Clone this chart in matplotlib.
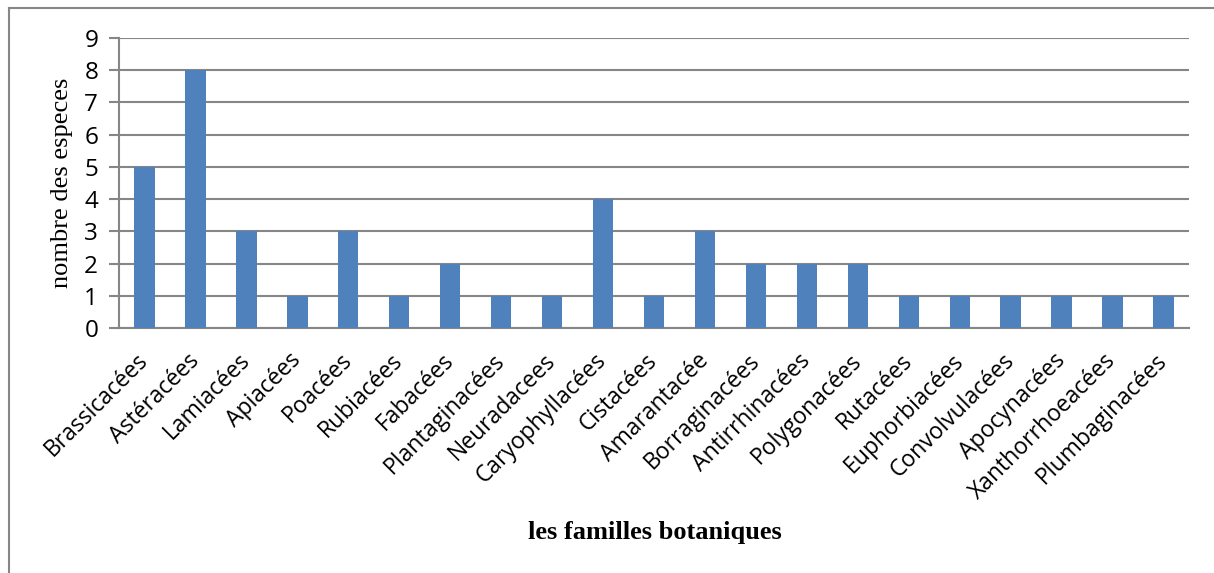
import matplotlib
matplotlib.use("Agg")
import matplotlib.pyplot as plt
from matplotlib.lines import Line2D

familles = ["Brassicacées", "Astéracées", "Lamiacées", "Apiacées", "Poacées",
            "Rubiacées", "Fabacées", "Plantaginacées", "Neuradacees",
            "Caryophyllacées", "Cistacées", "Amarantacée", "Borraginacées",
            "Antirrhinacées", "Polygonacées", "Rutacées", "Euphorbiacées",
            "Convolvulacées", "Apocynacées", "Xanthorrhoeacées", "Plumbaginacées"]
nb_especes = [5, 8, 3, 1, 3, 1, 2, 1, 1, 4, 1, 3, 2, 2, 2, 1, 1, 1, 1, 1, 1]

W, H = 1214, 573
fig = plt.figure(figsize=(W / 100, H / 100), dpi=100)
ax = fig.add_axes([119 / W, 1 - 328 / H, (1189 - 119) / W, (328 - 38) / H])

x = list(range(len(familles)))
ax.bar(x, nb_especes, width=0.4, color="#4F81BD", zorder=3)

ax.set_xlim(-0.5, len(familles) - 0.5)
ax.set_ylim(0, 9)
ax.set_yticks(range(10))
ax.yaxis.grid(True, color="#868686", linewidth=1.5, zorder=0)

for s in ["top", "right"]:
    ax.spines[s].set_visible(False)
ax.spines["left"].set_color("#868686")
ax.spines["bottom"].set_color("#868686")
ax.spines["left"].set_linewidth(1.5)
ax.spines["bottom"].set_linewidth(1.5)

ax.tick_params(axis="y", length=7, width=1.5, color="#868686", labelsize=17.5, pad=8)
ax.tick_params(axis="x", length=0, pad=21)
for lab in ax.get_yticklabels():
    lab.set_fontfamily("Open Sans")

ax.set_xticks(x)
ax.set_xticklabels(familles, rotation=45, ha="right", va="center",
                   rotation_mode="anchor", fontsize=16.5, family="Open Sans")

fig.text(62 / W, 1 - 183 / H, "nombre des especes", family="Liberation Serif",
         fontsize=19, rotation=90, ha="center", va="center")
fig.text(655 / W, 1 - 533 / H, "les familles botaniques", family="Liberation Serif",
         fontsize=19, fontweight="bold", ha="center", va="center")

# bordure du graphique (style Excel)
fig.add_artist(Line2D([9 / W, 9 / W], [0, 1 - 8 / H], transform=fig.transFigure,
                      color="#868686", linewidth=1.5))
fig.add_artist(Line2D([9 / W, 1], [1 - 8 / H, 1 - 8 / H], transform=fig.transFigure,
                      color="#868686", linewidth=1.5))

plt.savefig("out.png", dpi=100)
